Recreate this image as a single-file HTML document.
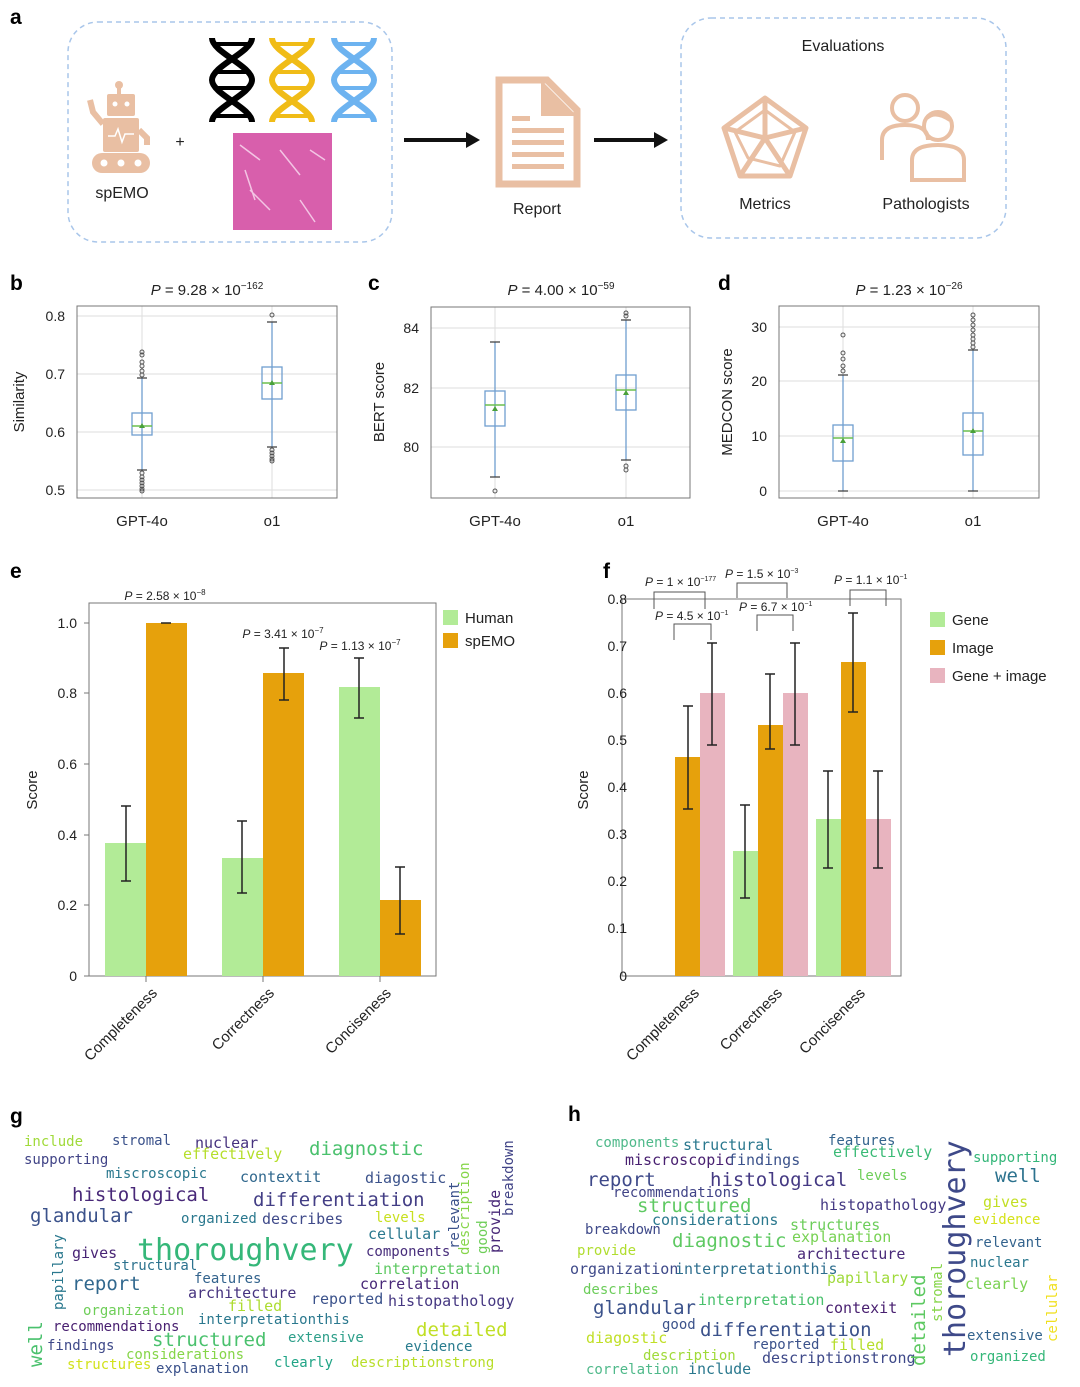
<!DOCTYPE html>
<html><head><meta charset="utf-8"><style>
html,body{margin:0;padding:0;background:#fff}
svg{display:block;font-family:"Liberation Sans",sans-serif}
.wc{font-family:"DejaVu Sans Mono",monospace}
.t{font-size:14px;fill:#222}
.lbl{font-weight:bold;font-size:21px;fill:#000}
.grid{stroke:#ddd;stroke-width:1}
.box{fill:none;stroke:#6f9fd0;stroke-width:1.3}
.wh{stroke:#6f9fd0;stroke-width:1.3}
.cap{stroke:#444;stroke-width:1.3}
.med{stroke:#6bbf4f;stroke-width:1.5}
.out{fill:none;stroke:#555;stroke-width:1}
.eb{stroke:#222;stroke-width:1.5}
.pt{font-size:12px;fill:#222}
</style></head><body>
<svg width="1080" height="1387" viewBox="0 0 1080 1387" xmlns="http://www.w3.org/2000/svg">
<!-- Panel a -->
<text x="10" y="24" class="lbl">a</text>
<rect x="68" y="22" width="324" height="220" rx="30" fill="none" stroke="#a9c6ea" stroke-width="1.5" stroke-dasharray="5,4"/>
<rect x="681" y="18" width="325" height="220" rx="30" fill="none" stroke="#a9c6ea" stroke-width="1.5" stroke-dasharray="5,4"/>
<!-- robot -->
<g fill="#e9bfa3">
<circle cx="119" cy="85" r="4"/><rect x="117" y="87" width="4" height="8"/>
<rect x="107" y="94" width="28" height="22" rx="2"/>
<rect x="103" y="118" width="36" height="34" rx="2"/>
<rect x="92" y="153" width="58" height="20" rx="10"/>
<path d="M103 124 L93 112 L90 100" stroke="#e9bfa3" stroke-width="6" fill="none"/>
<path d="M139 130 L147 138 L147 145" stroke="#e9bfa3" stroke-width="6" fill="none"/>
</g>
<circle cx="115" cy="104" r="2.5" fill="#fff"/><circle cx="127" cy="104" r="2.5" fill="#fff"/>
<circle cx="104" cy="163" r="3.5" fill="#fff"/><circle cx="121" cy="163" r="3.5" fill="#fff"/><circle cx="138" cy="163" r="3.5" fill="#fff"/>
<path d="M108 136 L115 136 L118 129 L122 142 L125 134 L134 134" stroke="#fff" stroke-width="1.5" fill="none"/>
<text x="122" y="198" font-size="16" text-anchor="middle" fill="#222">spEMO</text>
<text x="180" y="147" font-size="16" text-anchor="middle" fill="#222">+</text>
<!-- DNA -->
<g fill="none" stroke-width="6">
<g stroke="#000"><path d="M212 38 C212 52 252 66 252 80 C252 94 212 108 212 122"/><path d="M252 38 C252 52 212 66 212 80 C212 94 252 108 252 122"/><path d="M214 44 H250 M218 72 H246 M218 88 H246 M214 116 H250" stroke-width="4"/></g>
<g stroke="#f0bc17"><path d="M272 38 C272 52 312 66 312 80 C312 94 272 108 272 122"/><path d="M312 38 C312 52 272 66 272 80 C272 94 312 108 312 122"/><path d="M274 44 H310 M278 72 H306 M278 88 H306 M274 116 H310" stroke-width="4"/></g>
<g stroke="#6db3f0"><path d="M334 38 C334 52 374 66 374 80 C374 94 334 108 334 122"/><path d="M374 38 C374 52 334 66 334 80 C334 94 374 108 374 122"/><path d="M336 44 H372 M340 72 H368 M340 88 H368 M336 116 H372" stroke-width="4"/></g>
</g>
<rect x="233" y="133" width="99" height="97" fill="#d85fac"/>
<path d="M240 145 L260 160 M280 150 L300 175 M250 190 L270 210 M300 200 L315 222 M310 150 L325 160 M245 170 L255 200" stroke="#f3c5e4" stroke-width="1.5"/>
<!-- arrows -->
<path d="M404 140 H470" stroke="#111" stroke-width="4"/><path d="M466 132 L480 140 L466 148 Z" fill="#111"/>
<path d="M594 140 H658" stroke="#111" stroke-width="4"/><path d="M654 132 L668 140 L654 148 Z" fill="#111"/>
<!-- report -->
<path d="M499 80 H547 L577 110 V184 H499 Z" fill="none" stroke="#e9bfa3" stroke-width="7"/>
<path d="M541 80 V116 H577" fill="#e9bfa3"/>
<g fill="#e9bfa3"><rect x="512" y="116" width="18" height="5"/><rect x="512" y="128" width="52" height="5"/><rect x="512" y="140" width="52" height="5"/><rect x="512" y="152" width="52" height="5"/><rect x="512" y="164" width="52" height="5"/></g>
<text x="537" y="214" font-size="16" text-anchor="middle" fill="#222">Report</text>
<text x="843" y="51" font-size="16" text-anchor="middle" fill="#222">Evaluations</text>
<!-- radar -->
<g stroke="#e9bfa3" stroke-width="5" fill="none" stroke-linejoin="round">
<path d="M765 98 L806 128 L790 176 L740 176 L724 128 Z"/>
<path d="M765 98 L765 138 M806 128 L765 138 M790 176 L765 138 M740 176 L765 138 M724 128 L765 138"/>
<path d="M765 110 L795 132 L780 166 L748 158 L735 132 Z" stroke-width="3"/>
</g>
<text x="765" y="209" font-size="16" text-anchor="middle" fill="#222">Metrics</text>
<!-- pathologists -->
<g stroke="#e9bfa3" stroke-width="4" fill="none">
<circle cx="905" cy="108" r="13"/><path d="M882 160 V140 Q882 125 905 125 Q928 125 928 140"/>
<circle cx="938" cy="126" r="14"/><path d="M912 180 V160 Q912 145 938 145 Q964 145 964 160 V180 Z"/>
<path d="M927 118 Q935 110 950 120" />
</g>
<text x="926" y="209" font-size="16" text-anchor="middle" fill="#222">Pathologists</text>

<!-- Panel b -->
<text x="10" y="290" class="lbl">b</text>
<text x="207" y="295" font-size="15" text-anchor="middle" fill="#222"><tspan font-style="italic">P</tspan> = 9.28 × 10<tspan dy="-6" font-size="10">−162</tspan></text>
<g class="grid"><line x1="77" y1="316" x2="337" y2="316"/><line x1="77" y1="374" x2="337" y2="374"/><line x1="77" y1="432" x2="337" y2="432"/><line x1="77" y1="490" x2="337" y2="490"/><line x1="142" y1="306" x2="142" y2="498"/><line x1="272" y1="306" x2="272" y2="498"/></g>
<rect x="77" y="306" width="260" height="192" fill="none" stroke="#777"/>
<g class="t" text-anchor="end"><text x="65" y="321">0.8</text><text x="65" y="379">0.7</text><text x="65" y="437">0.6</text><text x="65" y="495">0.5</text></g>
<text transform="translate(24,402) rotate(-90)" font-size="15" text-anchor="middle" fill="#222">Similarity</text>
<g font-size="15" fill="#222" text-anchor="middle"><text x="142" y="526">GPT-4o</text><text x="272" y="526">o1</text></g>
<line x1="142" y1="470" x2="142" y2="378" class="wh"/><rect x="132" y="413" width="20" height="22" class="box" fill="#fff"/>
<line x1="132" y1="426" x2="152" y2="426" class="med"/><path d="M139 428 L142 423 L145 428Z" fill="#4aa03a"/>
<line x1="137" y1="378" x2="147" y2="378" class="cap"/><line x1="137" y1="470" x2="147" y2="470" class="cap"/>
<g class="out"><circle cx="142" cy="352" r="2"/><circle cx="142" cy="355" r="2"/><circle cx="142" cy="362" r="2"/><circle cx="142" cy="366" r="2"/><circle cx="142" cy="371" r="2"/><circle cx="142" cy="375" r="2"/><circle cx="142" cy="473" r="2"/><circle cx="142" cy="477" r="2"/><circle cx="142" cy="480" r="2"/><circle cx="142" cy="483" r="2"/><circle cx="142" cy="486" r="2"/><circle cx="142" cy="489" r="2"/><circle cx="142" cy="491" r="2"/></g>
<line x1="272" y1="447" x2="272" y2="322" class="wh"/><rect x="262" y="367" width="20" height="32" class="box" fill="#fff"/>
<line x1="262" y1="383" x2="282" y2="383" class="med"/><path d="M269 385 L272 380 L275 385Z" fill="#4aa03a"/>
<line x1="267" y1="322" x2="277" y2="322" class="cap"/><line x1="267" y1="447" x2="277" y2="447" class="cap"/>
<g class="out"><circle cx="272" cy="315" r="2"/><circle cx="272" cy="450" r="2"/><circle cx="272" cy="453" r="2"/><circle cx="272" cy="456" r="2"/><circle cx="272" cy="459" r="2"/><circle cx="272" cy="461" r="2"/></g>

<!-- Panel c -->
<text x="368" y="290" class="lbl">c</text>
<text x="561" y="295" font-size="15" text-anchor="middle" fill="#222"><tspan font-style="italic">P</tspan> = 4.00 × 10<tspan dy="-6" font-size="10">−59</tspan></text>
<g class="grid"><line x1="431" y1="328" x2="690" y2="328"/><line x1="431" y1="388" x2="690" y2="388"/><line x1="431" y1="447" x2="690" y2="447"/><line x1="495" y1="307" x2="495" y2="498"/><line x1="626" y1="307" x2="626" y2="498"/></g>
<rect x="431" y="307" width="259" height="191" fill="none" stroke="#777"/>
<g class="t" text-anchor="end"><text x="419" y="333">84</text><text x="419" y="393">82</text><text x="419" y="452">80</text></g>
<text transform="translate(384,402) rotate(-90)" font-size="15" text-anchor="middle" fill="#222">BERT score</text>
<g font-size="15" fill="#222" text-anchor="middle"><text x="495" y="526">GPT-4o</text><text x="626" y="526">o1</text></g>
<line x1="495" y1="477" x2="495" y2="342" class="wh"/><rect x="485" y="391" width="20" height="35" class="box" fill="#fff"/>
<line x1="485" y1="405" x2="505" y2="405" class="med"/><path d="M492 411 L495 406 L498 411Z" fill="#4aa03a"/>
<line x1="490" y1="342" x2="500" y2="342" class="cap"/><line x1="490" y1="477" x2="500" y2="477" class="cap"/>
<circle cx="495" cy="491" r="2" class="out"/>
<line x1="626" y1="460" x2="626" y2="320" class="wh"/><rect x="616" y="375" width="20" height="35" class="box" fill="#fff"/>
<line x1="616" y1="390" x2="636" y2="390" class="med"/><path d="M623 395 L626 390 L629 395Z" fill="#4aa03a"/>
<line x1="621" y1="320" x2="631" y2="320" class="cap"/><line x1="621" y1="460" x2="631" y2="460" class="cap"/>
<g class="out"><circle cx="626" cy="313" r="2"/><circle cx="626" cy="316" r="2"/><circle cx="626" cy="466" r="2"/><circle cx="626" cy="470" r="2"/></g>

<!-- Panel d -->
<text x="718" y="290" class="lbl">d</text>
<text x="909" y="295" font-size="15" text-anchor="middle" fill="#222"><tspan font-style="italic">P</tspan> = 1.23 × 10<tspan dy="-6" font-size="10">−26</tspan></text>
<g class="grid"><line x1="779" y1="327" x2="1039" y2="327"/><line x1="779" y1="381" x2="1039" y2="381"/><line x1="779" y1="436" x2="1039" y2="436"/><line x1="779" y1="491" x2="1039" y2="491"/><line x1="843" y1="306" x2="843" y2="498"/><line x1="973" y1="306" x2="973" y2="498"/></g>
<rect x="779" y="306" width="260" height="192" fill="none" stroke="#777"/>
<g class="t" text-anchor="end"><text x="767" y="332">30</text><text x="767" y="386">20</text><text x="767" y="441">10</text><text x="767" y="496">0</text></g>
<text transform="translate(732,402) rotate(-90)" font-size="15" text-anchor="middle" fill="#222">MEDCON score</text>
<g font-size="15" fill="#222" text-anchor="middle"><text x="843" y="526">GPT-4o</text><text x="973" y="526">o1</text></g>
<line x1="843" y1="491" x2="843" y2="375" class="wh"/><rect x="833" y="425" width="20" height="36" class="box" fill="#fff"/>
<line x1="833" y1="438" x2="853" y2="438" class="med"/><path d="M840 443 L843 438 L846 443Z" fill="#4aa03a"/>
<line x1="838" y1="375" x2="848" y2="375" class="cap"/><line x1="838" y1="491" x2="848" y2="491" class="cap"/>
<g class="out"><circle cx="843" cy="335" r="2"/><circle cx="843" cy="353" r="2"/><circle cx="843" cy="359" r="2"/><circle cx="843" cy="366" r="2"/><circle cx="843" cy="371" r="2"/></g>
<line x1="973" y1="491" x2="973" y2="350" class="wh"/><rect x="963" y="413" width="20" height="42" class="box" fill="#fff"/>
<line x1="963" y1="431" x2="983" y2="431" class="med"/><path d="M970 433 L973 428 L976 433Z" fill="#4aa03a"/>
<line x1="968" y1="350" x2="978" y2="350" class="cap"/><line x1="968" y1="491" x2="978" y2="491" class="cap"/>
<g class="out"><circle cx="973" cy="315" r="2"/><circle cx="973" cy="320" r="2"/><circle cx="973" cy="325" r="2"/><circle cx="973" cy="330" r="2"/><circle cx="973" cy="335" r="2"/><circle cx="973" cy="339" r="2"/><circle cx="973" cy="343" r="2"/><circle cx="973" cy="347" r="2"/></g>

<!-- Panel e -->
<text x="10" y="578" class="lbl">e</text>
<rect x="89" y="603" width="347" height="373" fill="none" stroke="#777"/>
<g class="t" text-anchor="end"><text x="77" y="628">1.0</text><text x="77" y="698">0.8</text><text x="77" y="769">0.6</text><text x="77" y="840">0.4</text><text x="77" y="910">0.2</text><text x="77" y="981">0</text></g>
<g stroke="#777"><line x1="84" y1="623" x2="89" y2="623"/><line x1="84" y1="693" x2="89" y2="693"/><line x1="84" y1="764" x2="89" y2="764"/><line x1="84" y1="835" x2="89" y2="835"/><line x1="84" y1="905" x2="89" y2="905"/><line x1="84" y1="976" x2="89" y2="976"/><line x1="146" y1="976" x2="146" y2="982"/><line x1="263" y1="976" x2="263" y2="982"/><line x1="380" y1="976" x2="380" y2="982"/></g>
<text transform="translate(37,790) rotate(-90)" font-size="15" text-anchor="middle" fill="#222">Score</text>
<g fill="#b2eb97"><rect x="105" y="843" width="41" height="133"/><rect x="222" y="858" width="41" height="118"/><rect x="339" y="687" width="41" height="289"/></g>
<g fill="#e6a10c"><rect x="146" y="623" width="41" height="353"/><rect x="263" y="673" width="41" height="303"/><rect x="380" y="900" width="41" height="76"/></g>
<g class="eb">
<path d="M126 881 V806 M121 881 H131 M121 806 H131"/>
<path d="M161 623 H171"/>
<path d="M242 893 V821 M237 893 H247 M237 821 H247"/>
<path d="M284 700 V648 M279 700 H289 M279 648 H289"/>
<path d="M359 718 V658 M354 718 H364 M354 658 H364"/>
<path d="M400 934 V867 M395 934 H405 M395 867 H405"/>
</g>
<text x="165" y="600" class="pt" text-anchor="middle"><tspan font-style="italic">P</tspan> = 2.58 × 10<tspan dy="-5" font-size="8">−8</tspan></text>
<text x="283" y="638" class="pt" text-anchor="middle"><tspan font-style="italic">P</tspan> = 3.41 × 10<tspan dy="-5" font-size="8">−7</tspan></text>
<text x="360" y="650" class="pt" text-anchor="middle"><tspan font-style="italic">P</tspan> = 1.13 × 10<tspan dy="-5" font-size="8">−7</tspan></text>
<rect x="443" y="610" width="15" height="15" fill="#b2eb97"/><text x="465" y="623" font-size="15" fill="#222">Human</text>
<rect x="443" y="633" width="15" height="15" fill="#e6a10c"/><text x="465" y="646" font-size="15" fill="#222">spEMO</text>
<g font-size="15" fill="#222" text-anchor="end">
<text transform="translate(158,994) rotate(-45)">Completeness</text>
<text transform="translate(275,994) rotate(-45)">Correctness</text>
<text transform="translate(392,994) rotate(-45)">Conciseness</text>
</g>

<!-- Panel f -->
<text x="603" y="578" class="lbl">f</text>
<rect x="622" y="599" width="279" height="377" fill="none" stroke="#777"/>
<g class="t" text-anchor="end"><text x="627" y="604">0.8</text><text x="627" y="651">0.7</text><text x="627" y="698">0.6</text><text x="627" y="745">0.5</text><text x="627" y="792">0.4</text><text x="627" y="839">0.3</text><text x="627" y="886">0.2</text><text x="627" y="933">0.1</text><text x="627" y="981">0</text></g>
<text transform="translate(588,790) rotate(-90)" font-size="15" text-anchor="middle" fill="#222">Score</text>
<g fill="#b2eb97"><rect x="733" y="851" width="25" height="125"/><rect x="816" y="819" width="25" height="157"/></g>
<g fill="#e6a10c"><rect x="675" y="757" width="25" height="219"/><rect x="758" y="725" width="25" height="251"/><rect x="841" y="662" width="25" height="314"/></g>
<g fill="#e8b4bf"><rect x="700" y="693" width="25" height="283"/><rect x="783" y="693" width="25" height="283"/><rect x="866" y="819" width="25" height="157"/></g>
<g class="eb">
<path d="M688 809 V706 M683 809 H693 M683 706 H693"/>
<path d="M712 745 V643 M707 745 H717 M707 643 H717"/>
<path d="M745 898 V805 M740 898 H750 M740 805 H750"/>
<path d="M770 749 V674 M765 749 H775 M765 674 H775"/>
<path d="M795 745 V643 M790 745 H800 M790 643 H800"/>
<path d="M828 868 V771 M823 868 H833 M823 771 H833"/>
<path d="M853 712 V613 M848 712 H858 M848 613 H858"/>
<path d="M878 868 V771 M873 868 H883 M873 771 H883"/>
</g>
<g stroke="#555" fill="none" stroke-width="1">
<path d="M654 609 V592 H705 V609"/>
<path d="M674 640 V624 H711 V640"/>
<path d="M737 598 V583 H787 V598"/>
<path d="M757 631 V615 H793 V631"/>
<path d="M850 606 V590 H886 V606"/>
</g>
<g class="pt" font-size="11">
<text x="645" y="586"><tspan font-style="italic">P</tspan> = 1 × 10<tspan dy="-5" font-size="7">−177</tspan></text>
<text x="655" y="620"><tspan font-style="italic">P</tspan> = 4.5 × 10<tspan dy="-5" font-size="7">−1</tspan></text>
<text x="725" y="578"><tspan font-style="italic">P</tspan> = 1.5 × 10<tspan dy="-5" font-size="7">−3</tspan></text>
<text x="739" y="611"><tspan font-style="italic">P</tspan> = 6.7 × 10<tspan dy="-5" font-size="7">−1</tspan></text>
<text x="834" y="584"><tspan font-style="italic">P</tspan> = 1.1 × 10<tspan dy="-5" font-size="7">−1</tspan></text>
</g>
<rect x="930" y="612" width="15" height="15" fill="#b2eb97"/><text x="952" y="625" font-size="15" fill="#222">Gene</text>
<rect x="930" y="640" width="15" height="15" fill="#e6a10c"/><text x="952" y="653" font-size="15" fill="#222">Image</text>
<rect x="930" y="668" width="15" height="15" fill="#e8b4bf"/><text x="952" y="681" font-size="15" fill="#222">Gene + image</text>
<g font-size="15" fill="#222" text-anchor="end">
<text transform="translate(700,994) rotate(-45)">Completeness</text>
<text transform="translate(783,994) rotate(-45)">Correctness</text>
<text transform="translate(866,994) rotate(-45)">Conciseness</text>
</g>

<!-- Panel g word cloud -->
<text x="10" y="1123" class="lbl">g</text>
<g class="wc">
<text x="24" y="1146" font-size="14" fill="#a0da39">include</text>
<text x="112" y="1145" font-size="14" fill="#3b528b">stromal</text>
<text x="195" y="1148" font-size="15" fill="#46327e">nuclear</text>
<text x="183" y="1159" font-size="15" fill="#b5de2b">effectively</text>
<text x="309" y="1155" font-size="19" fill="#4ac16d">diagnostic</text>
<text x="24" y="1164" font-size="14" fill="#414487">supporting</text>
<text x="106" y="1178" font-size="14" fill="#2a788e">miscroscopic</text>
<text x="240" y="1182" font-size="15" fill="#31688e">contextit</text>
<text x="365" y="1183" font-size="15" fill="#3b528b">diagostic</text>
<text x="72" y="1201" font-size="19" fill="#482878">histological</text>
<text x="253" y="1206" font-size="19" fill="#433e85">differentiation</text>
<text x="30" y="1222" font-size="19" fill="#3b528b">glandular</text>
<text x="181" y="1223" font-size="14" fill="#2a788e">organized</text>
<text x="262" y="1224" font-size="15" fill="#3e4989">describes</text>
<text x="375" y="1222" font-size="14" fill="#c8e020">levels</text>
<text x="368" y="1239" font-size="15" fill="#2a788e">cellular</text>
<text x="137" y="1260" font-size="30" fill="#35b779">thoroughvery</text>
<text x="366" y="1256" font-size="14" fill="#472d7b">components</text>
<text x="72" y="1258" font-size="15" fill="#482475">gives</text>
<text x="113" y="1270" font-size="14" fill="#2c728e">structural</text>
<text x="72" y="1290" font-size="19" fill="#31688e">report</text>
<text x="194" y="1283" font-size="14" fill="#33638d">features</text>
<text x="374" y="1274" font-size="15" fill="#5ec962">interpretation</text>
<text x="360" y="1289" font-size="15" fill="#482878">correlation</text>
<text x="188" y="1298" font-size="15" fill="#46337f">architecture</text>
<text x="228" y="1311" font-size="15" fill="#addc30">filled</text>
<text x="311" y="1304" font-size="15" fill="#3b528b">reported</text>
<text x="388" y="1306" font-size="15" fill="#453781">histopathology</text>
<text x="83" y="1315" font-size="14" fill="#6ece58">organization</text>
<text x="53" y="1331" font-size="14" fill="#481f70">recommendations</text>
<text x="198" y="1324" font-size="14" fill="#2a788e">interpretationthis</text>
<text x="416" y="1336" font-size="19" fill="#c0df25">detailed</text>
<text x="152" y="1346" font-size="19" fill="#4ac16d">structured</text>
<text x="288" y="1342" font-size="14" fill="#2e9f8a">extensive</text>
<text x="126" y="1359" font-size="14" fill="#86d549">considerations</text>
<text x="405" y="1351" font-size="14" fill="#287c8e">evidence</text>
<text x="47" y="1350" font-size="14" fill="#3e4989">findings</text>
<text x="67" y="1369" font-size="14" fill="#d2e21b">structures</text>
<text x="156" y="1373" font-size="14" fill="#3b528b">explanation</text>
<text x="274" y="1367" font-size="14" fill="#20a486">clearly</text>
<text x="351" y="1367" font-size="14" fill="#b8de29">descriptionstrong</text>
<text transform="translate(63,1310) rotate(-90)" font-size="14" fill="#2a788e">papillary</text>
<text transform="translate(42,1367) rotate(-90)" font-size="19" fill="#4ac16d">well</text>
<text transform="translate(459,1249) rotate(-90)" font-size="14" fill="#3b528b">relevant</text>
<text transform="translate(469,1255) rotate(-90)" font-size="14" fill="#86d549">description</text>
<text transform="translate(487,1254) rotate(-90)" font-size="14" fill="#6ece58">good</text>
<text transform="translate(500,1253) rotate(-90)" font-size="15" fill="#482878">provide</text>
<text transform="translate(513,1216) rotate(-90)" font-size="14" fill="#414487">breakdown</text>
</g>

<!-- Panel h word cloud -->
<text x="568" y="1121" class="lbl">h</text>
<g class="wc">
<text x="595" y="1147" font-size="14" fill="#4fb98a">components</text>
<text x="683" y="1150" font-size="15" fill="#2a788e">structural</text>
<text x="828" y="1145" font-size="14" fill="#33638d">features</text>
<text x="833" y="1157" font-size="15" fill="#3aba76">effectively</text>
<text x="625" y="1165" font-size="15" fill="#481f70">miscroscopic</text>
<text x="728" y="1165" font-size="15" fill="#3b528b">findings</text>
<text x="973" y="1162" font-size="14" fill="#34b679">supporting</text>
<text x="995" y="1182" font-size="19" fill="#2c728e">well</text>
<text x="587" y="1186" font-size="19" fill="#3e4989">report</text>
<text x="710" y="1186" font-size="19" fill="#443983">histological</text>
<text x="857" y="1180" font-size="14" fill="#6ece58">levels</text>
<text x="613" y="1197" font-size="14" fill="#414487">recommendations</text>
<text x="637" y="1212" font-size="19" fill="#5ec962">structured</text>
<text x="820" y="1210" font-size="15" fill="#443983">histopathology</text>
<text x="983" y="1207" font-size="15" fill="#c2df23">gives</text>
<text x="652" y="1225" font-size="15" fill="#2a788e">considerations</text>
<text x="790" y="1230" font-size="15" fill="#6ccd5a">structures</text>
<text x="973" y="1224" font-size="14" fill="#d5e21a">evidence</text>
<text x="585" y="1234" font-size="14" fill="#3e4989">breakdown</text>
<text x="672" y="1247" font-size="19" fill="#5ec962">diagnostic</text>
<text x="792" y="1242" font-size="15" fill="#77d153">explanation</text>
<text x="975" y="1247" font-size="14" fill="#33638d">relevant</text>
<text x="577" y="1255" font-size="14" fill="#b0dd2f">provide</text>
<text x="797" y="1259" font-size="15" fill="#482878">architecture</text>
<text x="570" y="1274" font-size="15" fill="#3e4989">organization</text>
<text x="675" y="1274" font-size="15" fill="#2e6e8e">interpretationthis</text>
<text x="827" y="1283" font-size="15" fill="#9fda3a">papillary</text>
<text x="970" y="1267" font-size="14" fill="#2a788e">nuclear</text>
<text x="583" y="1294" font-size="14" fill="#6ccd5a">describes</text>
<text x="965" y="1289" font-size="15" fill="#7ad151">clearly</text>
<text x="593" y="1314" font-size="19" fill="#3b528b">glandular</text>
<text x="698" y="1305" font-size="15" fill="#4ac16d">interpretation</text>
<text x="825" y="1313" font-size="15" fill="#481f70">contexit</text>
<text x="662" y="1329" font-size="14" fill="#3b528b">good</text>
<text x="700" y="1336" font-size="19" fill="#3b528b">differentiation</text>
<text x="586" y="1343" font-size="15" fill="#c0df25">diagostic</text>
<text x="967" y="1340" font-size="14" fill="#33638d">extensive</text>
<text x="752" y="1349" font-size="14" fill="#3b528b">reported</text>
<text x="830" y="1350" font-size="15" fill="#b5de2b">filled</text>
<text x="643" y="1360" font-size="14" fill="#a0da39">description</text>
<text x="762" y="1363" font-size="15" fill="#3e4989">descriptionstrong</text>
<text x="970" y="1361" font-size="14" fill="#35b779">organized</text>
<text x="586" y="1374" font-size="14" fill="#4fb98a">correlation</text>
<text x="688" y="1374" font-size="15" fill="#2a788e">include</text>
<text transform="translate(965,1357) rotate(-90)" font-size="30" fill="#3e4989">thoroughvery</text>
<text transform="translate(925,1366) rotate(-90)" font-size="19" fill="#5ec962">detailed</text>
<text transform="translate(942,1322) rotate(-90)" font-size="14" fill="#86d549">stromal</text>
<text transform="translate(1057,1342) rotate(-90)" font-size="14" fill="#f0e020">cellular</text>
</g>
</svg>
</body></html>
